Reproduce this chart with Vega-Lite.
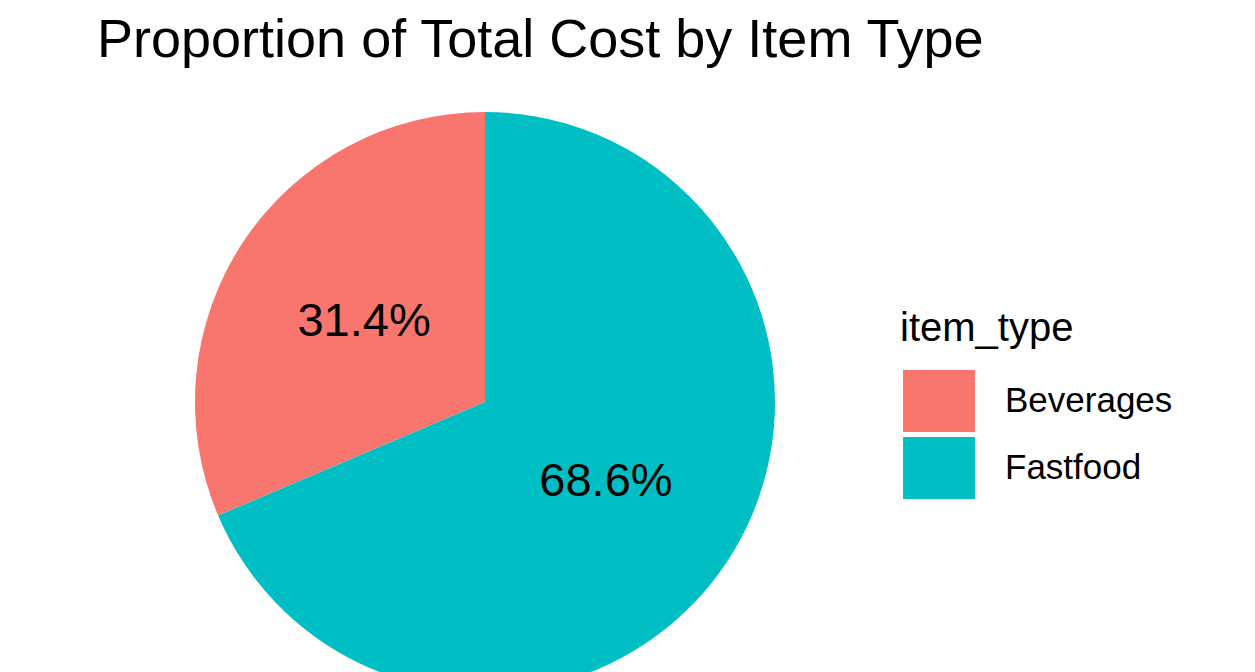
{
  "$schema": "https://vega.github.io/schema/vega-lite/v6.json",
  "padding": {"left": 0, "top": 14, "right": 0, "bottom": 0},
  "width": 970,
  "height": 664,
  "background": "white",
  "title": {
    "text": "Proportion of Total Cost by Item Type",
    "anchor": "start",
    "frame": "group",
    "dx": 97,
    "offset": 2,
    "font": "Liberation Sans",
    "fontSize": 54,
    "fontWeight": "normal",
    "color": "black"
  },
  "data": {
    "values": [
      {"item_type": "Beverages", "share": 0.314},
      {"item_type": "Fastfood", "share": 0.686}
    ]
  },
  "encoding": {
    "theta": {"field": "share", "type": "quantitative", "stack": true},
    "order": {"field": "item_type", "sort": "descending"}
  },
  "layer": [
    {
      "mark": {"type": "arc", "outerRadius": 290, "strokeWidth": 0},
      "encoding": {
        "color": {
          "field": "item_type",
          "type": "nominal",
          "scale": {"domain": ["Beverages", "Fastfood"], "range": ["#F8766D", "#00BFC4"]},
          "legend": {
            "title": "item_type",
            "orient": "none",
            "legendX": 900,
            "legendY": 239,
            "titleFont": "Liberation Sans",
            "titleFontSize": 40,
            "titleFontWeight": "normal",
            "titleColor": "black",
            "titlePadding": 21,
            "titleLimit": 0,
            "labelFont": "Liberation Sans",
            "labelFontSize": 35,
            "labelColor": "black",
            "labelOffset": 35,
            "labelLimit": 0,
            "symbolType": "M-1.16,-1H1.16V1H-1.16Z",
            "symbolSize": 3844,
            "symbolOffset": 8,
            "symbolStrokeWidth": 0,
            "symbolOpacity": 1,
            "rowPadding": 5
          }
        }
      }
    },
    {
      "mark": {"type": "text", "radius": 145, "font": "Liberation Sans", "fontSize": 47, "color": "black"},
      "encoding": {
        "text": {"field": "share", "type": "quantitative", "format": ".1%"}
      }
    }
  ]
}
